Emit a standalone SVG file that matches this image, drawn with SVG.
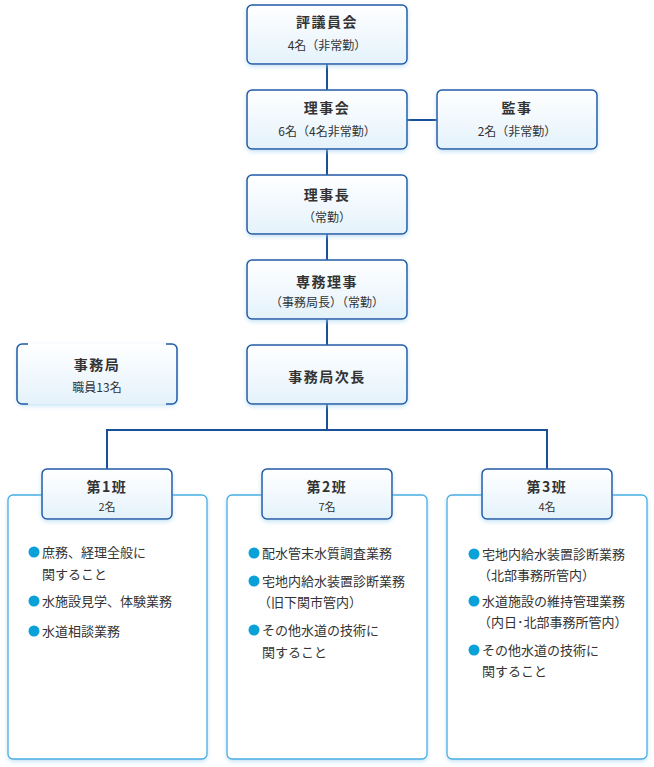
<svg xmlns="http://www.w3.org/2000/svg" width="654" height="767" viewBox="0 0 654 767">
<defs>
<linearGradient id="g" x1="0" y1="0" x2="0" y2="1">
<stop offset="0" stop-color="#ffffff"/>
<stop offset="1" stop-color="#e4f2fb"/>
</linearGradient>
<filter id="sh" x="-10%" y="-10%" width="120%" height="130%">
<feDropShadow dx="0" dy="2" stdDeviation="2" flood-color="#9fd0f0" flood-opacity="0.6"/>
</filter>
<style>
.box{fill:url(#g);stroke:#1f5aa6;stroke-width:1.5;filter:url(#sh)}
.panel{fill:#fff;stroke:#46ade3;stroke-width:1.3;filter:url(#sh)}
.t{font-family:"Noto Sans CJK JP","Noto Sans",sans-serif;font-weight:bold;font-size:14px;fill:#333;text-anchor:middle;letter-spacing:1.5px}
.s{font-family:"Noto Sans CJK JP","Noto Sans",sans-serif;font-size:12px;fill:#333;text-anchor:middle}
.s2{font-family:"Noto Sans CJK JP","Noto Sans",sans-serif;font-size:11px;fill:#333;text-anchor:middle}
.b{font-family:"Noto Sans CJK JP","Noto Sans",sans-serif;font-size:13px;fill:#333}
.dot{fill:#0aa0d8}
.ln{stroke:#1a4f9a;stroke-width:2;fill:none}
.br{stroke:#1f5aa6;stroke-width:1.5;fill:none}
</style>
</defs>
<rect width="654" height="767" fill="#fff"/>

<g id="connectors">
<line class="ln" x1="327" y1="64" x2="327" y2="345"/>
<line class="ln" x1="407" y1="120" x2="437" y2="120"/>
<path class="ln" d="M327 404 V430 M107 469 V430 H547 V469"/>
</g>

<g id="hyogiinkai">
<rect class="box" x="247" y="5" width="160" height="59" rx="5"/>
<text class="t" x="327" y="27">評議員会</text>
<text class="s" x="327" y="50">4名（非常勤）</text>
</g>
<g id="rijikai">
<rect class="box" x="247" y="90" width="160" height="59" rx="5"/>
<text class="t" x="327" y="113">理事会</text>
<text class="s" x="327" y="136">6名（4名非常勤）</text>
</g>
<g id="kanji">
<rect class="box" x="437" y="90" width="160" height="59" rx="5"/>
<text class="t" x="517" y="113">監事</text>
<text class="s" x="517" y="136">2名（非常勤）</text>
</g>
<g id="rijicho">
<rect class="box" x="247" y="175" width="160" height="59" rx="5"/>
<text class="t" x="327" y="200">理事長</text>
<text class="s" x="327" y="222">（常勤）</text>
</g>
<g id="senmuriji">
<rect class="box" x="247" y="260" width="160" height="59" rx="5"/>
<text class="t" x="327" y="287">専務理事</text>
<text class="s" x="327" y="307">（事務局長）（常勤）</text>
</g>
<g id="jimukyokujicho">
<rect class="box" x="247" y="345" width="160" height="59" rx="5"/>
<text class="t" x="327" y="382">事務局次長</text>
</g>
<g id="jimukyoku">
<rect x="17" y="344" width="160" height="60" rx="5" fill="url(#g)" filter="url(#sh)"/>
<path class="br" d="M28 344 H22 A5 5 0 0 0 17 349 V399 A5 5 0 0 0 22 404 H28 M166 344 H172 A5 5 0 0 1 177 349 V399 A5 5 0 0 1 172 404 H166"/>
<text class="t" x="97" y="370">事務局</text>
<text class="s" x="97" y="392">職員13名</text>
</g>

<g id="han1">
<rect class="panel" x="8" y="495" width="199" height="264" rx="5"/>
<rect class="box" x="42" y="469" width="130" height="50" rx="5"/>
<text class="t" x="107" y="492">第1班</text>
<text class="s2" x="107" y="511">2名</text>
<circle class="dot" cx="34" cy="552" r="5.5"/>
<text class="b" x="42" y="557">庶務、経理全般に</text>
<text class="b" x="42" y="579">関すること</text>
<circle class="dot" cx="34" cy="601" r="5.5"/>
<text class="b" x="42" y="606">水施設見学、体験業務</text>
<circle class="dot" cx="34" cy="631" r="5.5"/>
<text class="b" x="42" y="636">水道相談業務</text>
</g>

<g id="han2">
<rect class="panel" x="227" y="495" width="200" height="264" rx="5"/>
<rect class="box" x="262" y="469" width="130" height="50" rx="5"/>
<text class="t" x="327" y="492">第2班</text>
<text class="s2" x="327" y="511">7名</text>
<circle class="dot" cx="254" cy="553" r="5.5"/>
<text class="b" x="262" y="558">配水管末水質調査業務</text>
<circle class="dot" cx="254" cy="581" r="5.5"/>
<text class="b" x="262" y="586">宅地内給水装置診断業務</text>
<text class="b" x="258" y="607">（旧下関市管内）</text>
<circle class="dot" cx="254" cy="630" r="5.5"/>
<text class="b" x="262" y="635">その他水道の技術に</text>
<text class="b" x="262" y="657">関すること</text>
</g>

<g id="han3">
<rect class="panel" x="447" y="495" width="200" height="264" rx="5"/>
<rect class="box" x="482" y="469" width="130" height="50" rx="5"/>
<text class="t" x="547" y="492">第3班</text>
<text class="s2" x="547" y="511">4名</text>
<circle class="dot" cx="474" cy="554" r="5.5"/>
<text class="b" x="482" y="559">宅地内給水装置診断業務</text>
<text class="b" x="478" y="580">（北部事務所管内）</text>
<circle class="dot" cx="474" cy="601" r="5.5"/>
<text class="b" x="482" y="606">水道施設の維持管理業務</text>
<text class="b" x="478" y="627">（内日･北部事務所管内）</text>
<circle class="dot" cx="474" cy="650" r="5.5"/>
<text class="b" x="482" y="655">その他水道の技術に</text>
<text class="b" x="482" y="676">関すること</text>
</g>
</svg>
